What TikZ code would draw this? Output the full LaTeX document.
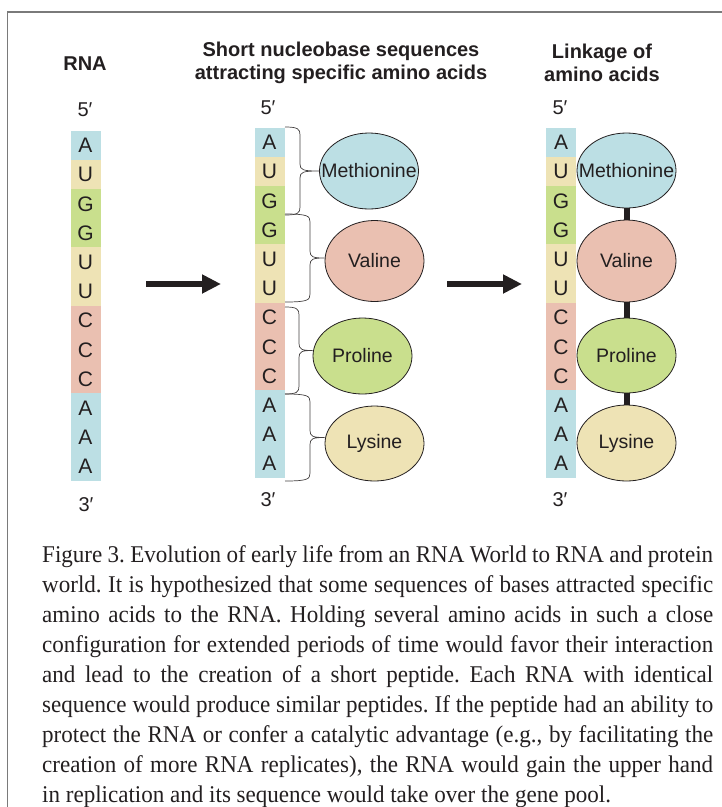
\documentclass[tikz,border=0pt]{standalone}
\usepackage{fontspec}
\setmainfont[FakeStretch=0.96]{Liberation Serif}
\newfontfamily\lsans{Liberation Sans}
\usetikzlibrary{shapes.geometric,arrows.meta,calc}
\definecolor{cA}{HTML}{BCDFE4}
\definecolor{cU}{HTML}{EEE3B5}
\definecolor{cG}{HTML}{C9DF8D}
\definecolor{cC}{HTML}{EAC0B1}
\definecolor{ink}{HTML}{231F20}
\definecolor{framec}{HTML}{7A7A7A}
\frenchspacing
\newcommand\mybrace[5]{% x0, ytop, ybot, xspine, node
  \draw[bracestyle] let \p1=(#5.west), \n1={(#2+#3)/2} in
    (#1,#2) .. controls (#4-2,#2) and (#4,#2-2) .. (#4,#2-8)
    -- (#4,\n1+7) .. controls (#4,\n1+1) and (#4+3,\n1) .. (\x1,\n1)
    .. controls (#4+3,\n1) and (#4,\n1-1) .. (#4,\n1-7)
    -- (#4,#3+8) .. controls (#4,#3+2) and (#4-2,#3) .. (#1,#3);}
\newcommand\aminolabel[1]{\makebox[0pt]{#1}}
\begin{document}
\begin{tikzpicture}[x=1pt,y=1pt,
  basecell/.style={minimum width=30pt, minimum height=29.6pt, inner sep=0pt,
    font=\lsans\fontsize{21}{21}\selectfont, text=ink},
  amino/.style={ellipse, draw=ink, line width=0.8pt, inner sep=0pt,
    minimum width=99pt, font=\lsans\fontsize{19.5}{19.5}\selectfont, text=ink},
  head/.style={font=\lsans\bfseries\fontsize{20}{23}\selectfont, align=center, text=ink},
  prime/.style={font=\lsans\fontsize{20}{20}\selectfont, text=ink},
  bracestyle/.style={draw=ink!85, line width=0.7pt},
  bigarrow/.style={draw=ink, line width=6pt, -{Triangle[length=19pt,width=18pt]}},
  linker/.style={draw=ink, line width=6pt},
  capline/.style={anchor=base west, inner sep=0pt, font=\fontsize{24}{30}\selectfont, text=ink}]
\useasboundingbox (0,0) rectangle (722,-807);
% frame
\draw[framec, line width=1.5pt] (722,-12) -- (7.5,-12) -- (7.5,-807);
% headers
\node[head] (h1) at (85,-64) {RNA};
\node[head] (h2) at (341,-63) {Short nucleobase sequences\\attracting specific amino acids};
\node[head] (h3) at (602,-63) {Linkage of\\amino acids};
% columns
\foreach \b [count=\i] in {A,U,G,G,U,U,C,C,C,A,A,A}{
  \node[basecell, fill=c\b] (a\i) at (85.5,{-131-14.58-(\i-1)*29.17}) {\b};
  \node[basecell, fill=c\b] (b\i) at (269.5,{-128-14.58-(\i-1)*29.17}) {\b};
  \node[basecell, fill=c\b] (c\i) at (561,{-128-14.58-(\i-1)*29.17}) {\b};
}
\node[prime] (p1) at (85,-110) {5′};
\node[prime] (p2) at (268,-108) {5′};
\node[prime] (p3) at (560,-108) {5′};
\node[prime] (q1) at (86,-505) {3′};
\node[prime] (q2) at (268,-500) {3′};
\node[prime] (q3) at (560,-500) {3′};
% amino acids, column 2
\node[amino, fill=cA, minimum height=76pt] (met2) at (369,-171) {\aminolabel{Methionine}};
\node[amino, fill=cC, minimum height=81pt] (val2) at (374.5,-261) {\aminolabel{Valine}};
\node[amino, fill=cG, minimum height=76pt] (pro2) at (362.5,-356) {\aminolabel{Proline}};
\node[amino, fill=cU, minimum height=75pt] (lys2) at (374.5,-443.5) {\aminolabel{Lysine}};
% amino acids, column 3
\node[amino, fill=cA, minimum height=75pt] (met3) at (626.5,-170.5) {\aminolabel{Methionine}};
\node[amino, fill=cC, minimum height=82pt] (val3) at (626.5,-261) {\aminolabel{Valine}};
\node[amino, fill=cG, minimum height=75pt] (pro3) at (626.5,-355.5) {\aminolabel{Proline}};
\node[amino, fill=cU, minimum height=76pt] (lys3) at (626.5,-443) {\aminolabel{Lysine}};
% braces
\mybrace{285}{-127}{-215}{300}{met2}
\mybrace{285}{-214}{-302}{310}{val2}
\mybrace{285}{-307}{-394}{299}{pro2}
\mybrace{285}{-394}{-481}{310}{lys2}
% linkers
\draw[linker] (met3.south) -- (val3.north);
\draw[linker] (val3.south) -- (pro3.north);
\draw[linker] (pro3.south) -- (lys3.north);
% arrows
\coordinate (r1s) at (146,-284); \coordinate (r1e) at (221,-284);
\coordinate (r2s) at (447,-284); \coordinate (r2e) at (522,-284);
\draw[bigarrow] (r1s) -- (r1e);
\draw[bigarrow] (r2s) -- (r2e);
% caption
\node[capline] (cap1) at (42,-562) {\makebox[671pt][s]{Figure 3. Evolution of early life from an RNA World to RNA and protein}};
\node[capline] (cap2) at (42,-592) {\makebox[671pt][s]{world. It is hypothesized that some sequences of bases attracted specific}};
\node[capline] (cap3) at (42,-622) {\makebox[671pt][s]{amino acids to the RNA. Holding several amino acids in such a close}};
\node[capline] (cap4) at (42,-652) {\makebox[671pt][s]{configuration for extended periods of time would favor their interaction}};
\node[capline] (cap5) at (42,-682) {\makebox[671pt][s]{and lead to the creation of a short peptide. Each RNA with identical}};
\node[capline] (cap6) at (42,-712) {\makebox[671pt][s]{sequence would produce similar peptides. If the peptide had an ability to}};
\node[capline] (cap7) at (42,-742) {\makebox[671pt][s]{protect the RNA or confer a catalytic advantage (e.g., by facilitating the}};
\node[capline] (cap8) at (42,-772) {\makebox[671pt][s]{creation of more RNA replicates), the RNA would gain the upper hand}};
\node[capline] (cap9) at (42,-802) {in replication and its sequence would take over the gene pool.};
\end{tikzpicture}
\end{document}
